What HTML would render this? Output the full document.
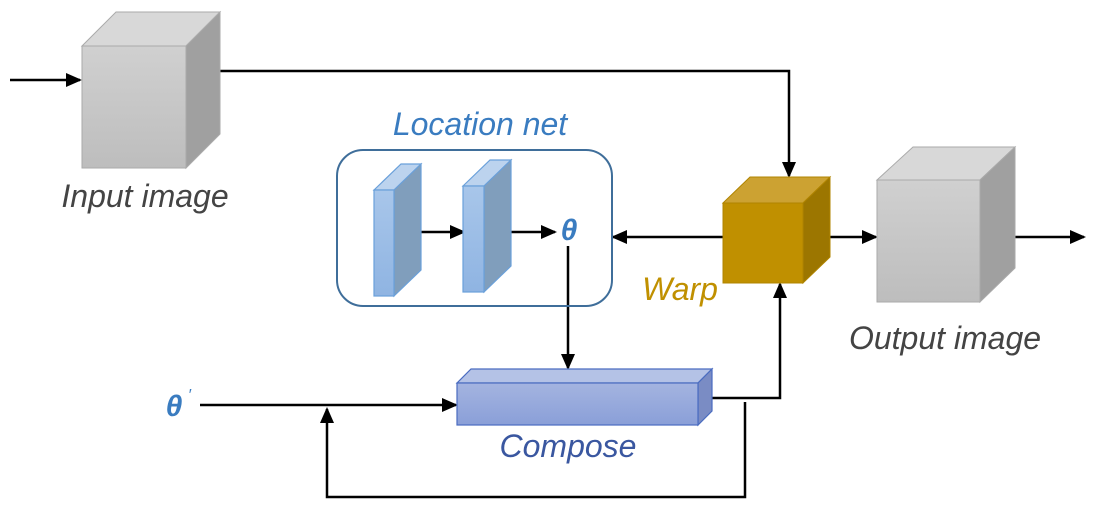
<!DOCTYPE html>
<html><head><style>body{margin:0;background:#fff}svg{display:block}text{font-family:"Liberation Sans",sans-serif;font-style:italic}</style></head><body>
<svg width="1094" height="512" viewBox="0 0 1094 512" xmlns="http://www.w3.org/2000/svg">
<defs>
<marker id="a" markerWidth="16" markerHeight="14" refX="14" refY="7" orient="auto" markerUnits="userSpaceOnUse"><path d="M0,0 L16,7 L0,14z" fill="#000"/></marker>
<linearGradient id="g1" x1="0" y1="0" x2="0" y2="1"><stop offset="0" stop-color="#d0d0d0"/><stop offset="1" stop-color="#bdbdbd"/></linearGradient>
<linearGradient id="gb" x1="0" y1="0" x2="0" y2="1"><stop offset="0" stop-color="#a8c6ea"/><stop offset="1" stop-color="#8fb4e2"/></linearGradient>
<linearGradient id="gc" x1="0" y1="0" x2="0" y2="1"><stop offset="0" stop-color="#a4b4e0"/><stop offset="1" stop-color="#8a9fd8"/></linearGradient>
</defs>
<g stroke="#000" stroke-width="2.5" fill="none">
<line x1="10" y1="80" x2="80" y2="80" marker-end="url(#a)"/>
<polyline points="220,71 789,71 789,176" marker-end="url(#a)"/>
<line x1="723" y1="237" x2="613" y2="237" marker-end="url(#a)"/>
<line x1="568" y1="246" x2="568" y2="368" marker-end="url(#a)"/>
<line x1="200" y1="405" x2="456" y2="405" marker-end="url(#a)"/>
<polyline points="712,398 780,398 780,284" marker-end="url(#a)"/>
<polyline points="745,402 745,497 327,497 327,409" marker-end="url(#a)"/>
<line x1="830" y1="237" x2="876" y2="237" marker-end="url(#a)"/>
<line x1="1015" y1="237" x2="1084" y2="237" marker-end="url(#a)"/>
<line x1="394" y1="232" x2="464" y2="232" marker-end="url(#a)"/>
<line x1="511" y1="232" x2="555" y2="232" marker-end="url(#a)"/>
</g>
<g stroke="#aaa" stroke-width="1">
<polygon points="82,46 116,12 220,12 186,46" fill="#d8d8d8"/>
<polygon points="186,46 220,12 220,134 186,168" fill="#a0a0a0"/>
<rect x="82" y="46" width="104" height="122" fill="url(#g1)"/>
<polygon points="877,180 913,147 1015,147 980,180" fill="#d8d8d8"/>
<polygon points="980,180 1015,147 1015,268 980,302" fill="#a0a0a0"/>
<rect x="877" y="180" width="103" height="122" fill="url(#g1)"/>
</g>
<g stroke="#b08400" stroke-width="1">
<polygon points="723,203 750,177 830,177 803,203" fill="#cca232"/>
<polygon points="803,203 830,177 830,257 803,283" fill="#9c7600"/>
<rect x="723" y="203" width="80" height="80" fill="#c09000"/>
</g>
<rect x="337" y="150" width="275" height="156" rx="26" fill="none" stroke="#3f6e9a" stroke-width="2"/>
<g stroke="#6aa0da" stroke-width="1.2">
<polygon points="374,190 401,164 421,164 394,190" fill="#bcd3ee"/>
<polygon points="394,190 421,164 421,270 394,296" fill="#809ebc"/>
<rect x="374" y="190" width="20" height="106" fill="url(#gb)"/>
<polygon points="463,186 490,160 511,160 484,186" fill="#bcd3ee"/>
<polygon points="484,186 511,160 511,266 484,292" fill="#809ebc"/>
<rect x="463" y="186" width="21" height="106" fill="url(#gb)"/>
</g>
<g stroke="#4a6cc0" stroke-width="1.2">
<polygon points="457,383 471,369 712,369 698,383" fill="#b4c2e6"/>
<polygon points="698,383 712,369 712,411 698,425" fill="#7a8cc4"/>
<rect x="457" y="383" width="241" height="42" fill="url(#gc)"/>
</g>
<text x="480" y="135" font-size="32" fill="#3a7cc0" text-anchor="middle">Location net</text>
<text x="145" y="207" font-size="32" fill="#444" text-anchor="middle">Input image</text>
<text x="945" y="349" font-size="32" fill="#444" text-anchor="middle">Output image</text>
<text x="680" y="300" font-size="32" fill="#c09000" text-anchor="middle">Warp</text>
<text x="568" y="457" font-size="32" fill="#3a57a0" text-anchor="middle">Compose</text>
<text x="569" y="240" font-size="30" font-weight="bold" fill="#3a7cc0" text-anchor="middle">θ</text>
<text x="174" y="416" font-size="30" font-weight="bold" fill="#3a7cc0" text-anchor="middle">θ</text>
<text x="188" y="400" font-size="16" fill="#3a7cc0">′</text>
</svg>
</body></html>
